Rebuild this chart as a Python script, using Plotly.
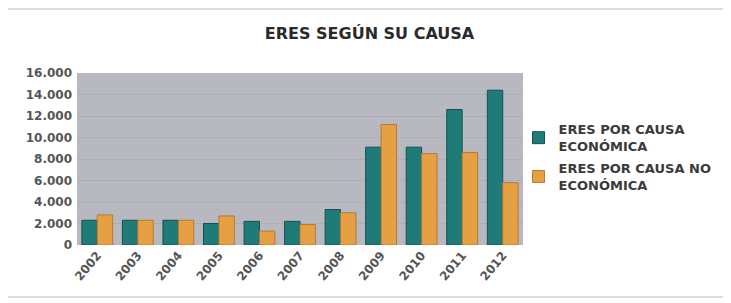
import plotly.graph_objects as go

years = ["2002", "2003", "2004", "2005", "2006", "2007", "2008", "2009", "2010", "2011", "2012"]
economica = [2300, 2300, 2300, 2000, 2200, 2200, 3300, 9100, 9100, 12600, 14400]
no_economica = [2800, 2300, 2300, 2700, 1300, 1900, 3000, 11200, 8500, 8600, 5800]

series_names = ["ERES POR CAUSA<br>ECONÓMICA", "ERES POR CAUSA NO<br>ECONÓMICA"]
tick_vals = [0, 2000, 4000, 6000, 8000, 10000, 12000, 14000, 16000]

font_family = "DejaVu Sans"
text_col = "#3a3a3a"

# page body has an 8px margin, so the figure is laid out 8px smaller/offset
W, H = 723, 295
L, T, PW, PH = 69, 65, 446, 172

fig = go.Figure()
fig.add_trace(go.Bar(
    x=years, y=economica, name=series_names[0], legendgroup="a",
    marker=dict(color="#1f7b78", line=dict(color="#15504e", width=1)),
))
fig.add_trace(go.Bar(
    x=years, y=no_economica, name=series_names[1], legendgroup="b",
    marker=dict(color="#e6a044", line=dict(color="#b87830", width=1)),
))

fig.update_layout(
    width=W, height=H,
    margin=dict(l=L, r=W - L - PW, t=T, b=H - T - PH, autoexpand=False),
    paper_bgcolor="white",
    plot_bgcolor="#b8b8c0",
    separators=",.",
    barmode="group",
    bargap=0.24,
    bargroupgap=0.0,
    title=dict(
        text="<b>ERES SEGÚN SU CAUSA</b>",
        x=0.5, xref="container", xanchor="center",
        y=1 - 25 / H, yref="container", yanchor="middle",
        font=dict(family=font_family, size=16, color="#2a2a2a"),
    ),
    legend=dict(
        x=0.99, xanchor="left", y=0.76, yanchor="top",
        font=dict(family=font_family, size=13, color=text_col, weight="bold"),
        tracegroupgap=2,
        bgcolor="rgba(0,0,0,0)",
    ),
    showlegend=True,
)

fig.update_xaxes(
    type="category",
    tickangle=-50,
    tickfont=dict(family=font_family, size=12, color="#555555", weight="bold"),
    showgrid=False,
    showline=False,
    ticks="",
    automargin=False,
)
fig.update_yaxes(
    range=[0, 16000],
    tickvals=tick_vals,
    tickformat=",d",
    tickfont=dict(family=font_family, size=12, color="#555555", weight="bold"),
    ticklabelstandoff=4,
    showgrid=True,
    gridcolor="#aeaeb6",
    gridwidth=1,
    zeroline=False,
    showline=False,
    ticks="",
    automargin=False,
)

fig.add_shape(
    type="rect", xref="paper", yref="paper",
    x0=(-3 - L) / PW, x1=(718 - L) / PW,
    y0=(T + PH - 289) / PH, y1=(T + PH - 1) / PH,
    line=dict(color="#dcdcdc", width=2), layer="below",
)

fig.write_html("out.html")
